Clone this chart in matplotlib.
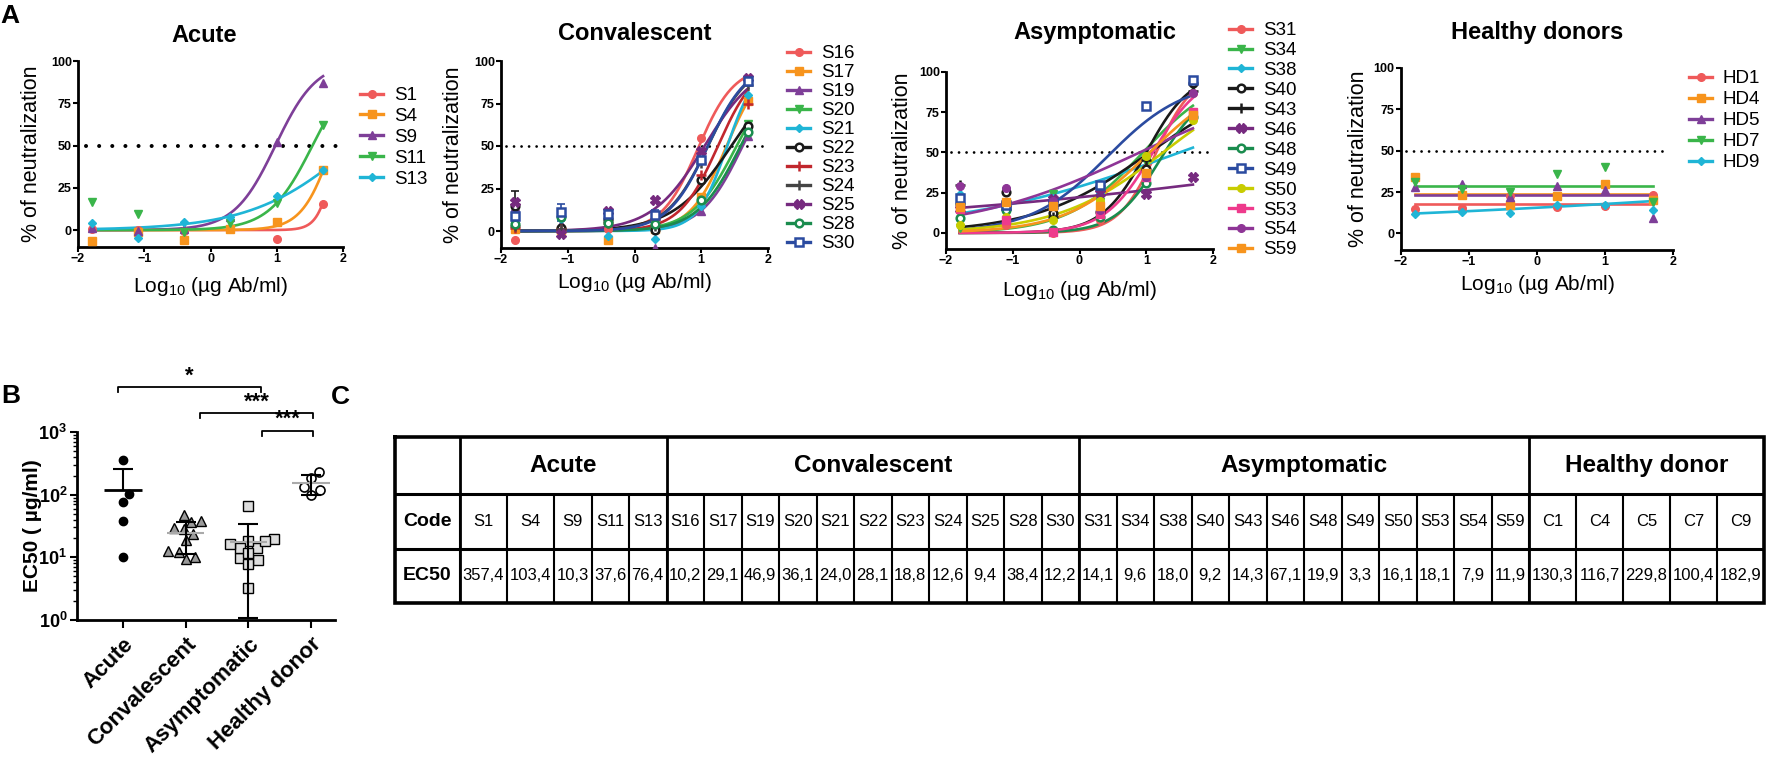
import numpy as np
import matplotlib
matplotlib.use('Agg')
import matplotlib.pyplot as plt
from matplotlib.lines import Line2D
from matplotlib import font_manager, ticker

plt.rcParams['font.family'] = ['Liberation Sans', 'DejaVu Sans']
plt.rcParams['mathtext.fontset'] = 'custom'
plt.rcParams['mathtext.rm'] = 'Liberation Sans'
plt.rcParams['mathtext.bf'] = 'Liberation Sans:bold'
plt.rcParams['mathtext.it'] = 'Liberation Sans:italic'

installed = {f.name for f in font_manager.fontManager.ttflist}
has_narrow = 'Liberation Sans Narrow' in installed
narrow = 'Liberation Sans Narrow' if has_narrow else 'Liberation Sans'
# table font sizes (narrow font lets us go larger)
tf_cell, tf_head, tf_row = (14, 20, 16.5) if has_narrow else (12, 17.5, 14)

# ---------------- data ----------------
conc = [0.016, 0.08, 0.4, 2, 10, 50]  # ug Ab/ml, 5-fold dilutions

# panel A: % neutralization at each dilution, and 4PL fit (bottom, top, logEC50, hill)
acute_names = ['S1', 'S4', 'S9', 'S11', 'S13']
acute_pts = [
    [0.5, 0, -0.5, 0.5, -5, 15.5],
    [-6.7, -1, -5.7, 0.5, 4.5, 35.5],
    [1, -0.4, 0.5, 8, 52, 87],
    [16.7, 9.4, -1.4, 4, 16, 62],
    [4.3, -4.9, 4.9, 7.5, 20, 35.5],
]
acute_fit = [(0, 100, 1.9, 3.5), (0, 100, 1.84, 1.89), (0, 100, 0.98, 1.4),
             (0, 100, 1.54, 1.33), (0, 100, 2.18, 0.557)]

conv_names = ['S16', 'S17', 'S19', 'S20', 'S21', 'S22', 'S23', 'S24', 'S25', 'S28', 'S30']
conv_pts = [
    [-5, 0, 1, 7, 55, 87.5],
    [1, 0.5, -5.5, 1, 20, 76.5],
    [14, 4, 11, -10, 12, 56],
    [6, 8, 4, 3, 17, 63],
    [5, 7, -3, -4.5, 15, 80],
    [15, 2, 7, 0.5, 30, 62],
    [2, 1, 5, 7, 33, 75],
    [3, 1, 6, 3, 40, 86],
    [17, -2, 12, 18.5, 47, 90],
    [4, 8, 5, 4, 18, 58],
    [9, 11, 10, 9.5, 42, 88],
]
conv_sd = {'S22': [8.5, 0, 2, 0, 0, 0], 'S30': [3, 5, 0, 3, 0, 0]}
conv_fit = [(0, 97, 0.95, 1.6), (0, 100, 1.38, 1.59), (0, 100, 1.62, 1.39),
            (0, 100, 1.53, 1.31), (0, 100, 1.39, 1.94), (0, 100, 1.45, 1.0),
            (0, 100, 1.25, 1.5), (0, 100, 1.1, 1.4), (0, 100, 1.05, 1.1),
            (0, 100, 1.59, 1.33), (0, 100, 1.1, 1.44)]

asym_names = ['S31', 'S34', 'S38', 'S40', 'S43', 'S46', 'S48', 'S49', 'S50', 'S53', 'S54', 'S59']
asym_pts = [
    [20, 5, 0, 8, 33, 87],
    [3, 12, 24, 19, 44, 91],
    [24, 28, 22, 25, 31, 74],
    [18, 25.5, 12.5, 13, 40, 93],
    [30, 15, 10, 29, 45, 88],
    [15, 18, 21, 25, 24, 35],
    [9, 14, 2, 10, 31, 72],
    [22, 17.5, 18, 30, 79, 95],
    [5, 10, 8, 20, 48, 70],
    [15, 8, 0.5, 12, 35, 75],
    [29, 28, 20, 14, 35, 87],
    [16, 19.5, 17, 17, 37, 73],
]
asym_fit = [(0, 100, 1.15, 1.55), (0, 100, 0.95, 0.77), (0, 100, 1.5, 0.262),
            (0, 100, 1.0, 1.3), (0, 100, 1.05, 0.506), (0, 100, 5.2, 0.105),
            (0, 90, 1.2, 1.3), (0, 95, 0.42, 0.75), (0, 100, 1.25, 0.55),
            (0, 100, 1.1, 1.2), (0, 100, 0.9, 0.336), (0, 100, 1.05, 0.7)]

hd_names = ['HD1', 'HD4', 'HD5', 'HD7', 'HD9']
hd_pts = [
    [15, 15.5, 22.5, 16, 16.5, 23],
    [34, 23, 17.5, 22.5, 30, 20],
    [28, 30, 22, 28.5, 26.5, 9.5],
    [31, 27, 25, 36, 40, 19],
    [12, 13, 12.5, 17, 17.5, 14],
]
hd_fit = [(18, 18, 0, 1), (24, 24, 0, 1), (23, 23, 0, 1), (28.5, 28.5, 0, 1),
          (0, 100, 10.3, 0.0714)]

# panel B / C: EC50 (ug/ml)
groups = ['Acute', 'Convalescent', 'Asymptomatic', 'Healthy donor']
codes_acute = ['S1', 'S4', 'S9', 'S11', 'S13']
ec50_acute = [357.4, 103.4, 10.3, 37.6, 76.4]
codes_conv = ['S16', 'S17', 'S19', 'S20', 'S21', 'S22', 'S23', 'S24', 'S25', 'S28', 'S30']
ec50_conv = [10.2, 29.1, 46.9, 36.1, 24.0, 28.1, 18.8, 12.6, 9.4, 38.4, 12.2]
codes_asym = ['S31', 'S34', 'S38', 'S40', 'S43', 'S46', 'S48', 'S49', 'S50', 'S53', 'S54', 'S59']
ec50_asym = [14.1, 9.6, 18.0, 9.2, 14.3, 67.1, 19.9, 3.3, 16.1, 18.1, 7.9, 11.9]
codes_hd = ['C1', 'C4', 'C5', 'C7', 'C9']
ec50_hd = [130.3, 116.7, 229.8, 100.4, 182.9]
sig_labels = ['*', '***', '***']

# ---------------- styles ----------------
RED, ORANGE, PURPLE, GREEN, CYAN = '#ef5a5a', '#f7941d', '#7e3f98', '#3ab54a', '#1fb5d6'
BLACK, DRED, PURP2, TEAL, BLUE = '#1a1a1a', '#c1272d', '#762a7f', '#1a8c4e', '#2b4ba0'
YELLOW, PINK, MAGENTA = '#c8cc00', '#ee3a8c', '#8e3596'

acute_style = [(RED, 'o'), (ORANGE, 's'), (PURPLE, '^'), (GREEN, 'v'), (CYAN, 'D')]
conv_style = [(RED, 'o'), (ORANGE, 's'), (PURPLE, '^'), (GREEN, 'v'), (CYAN, 'D'),
              (BLACK, 'oo'), (DRED, '+'), ('#444444', '+'), (PURP2, 'X'), (TEAL, 'oo'), (BLUE, 'so')]
asym_style = [(RED, 'o'), (GREEN, 'v'), (CYAN, 'D'), (BLACK, 'oo'), (BLACK, '+'), (PURP2, 'X'),
              (TEAL, 'oo'), (BLUE, 'so'), (YELLOW, 'o'), (PINK, 's'), (MAGENTA, 'o'), (ORANGE, 's')]
hd_style = [(RED, 'o'), (ORANGE, 's'), (PURPLE, '^'), (GREEN, 'v'), (CYAN, 'D')]


def mk(code, c):
    if code == 'oo':
        return dict(marker='o', ms=5.5, mfc='white', mec=c, mew=1.8)
    if code == 'so':
        return dict(marker='s', ms=5.5, mfc='white', mec=c, mew=1.8)
    if code == '+':
        return dict(marker='+', ms=6.5, mec=c, mew=1.8)
    if code == 'X':
        return dict(marker='X', ms=6.5, mfc=c, mec=c)
    if code == 'D':
        return dict(marker='D', ms=4, mfc=c, mec=c)
    return dict(marker=code, ms=5.5, mfc=c, mec=c)


W, H = 1771, 766
fig = plt.figure(figsize=(W / 100, H / 100), dpi=100)


def box(l, t, r, b):
    return [l / W, 1 - b / H, (r - l) / W, (b - t) / H]


def draw_panel(rect, title, title_xy, names, pts, fits, style, leg_xy, leg_sp,
               sds=None, big_dots=False, xlab_y=287, ylab_x=32):
    ax = fig.add_axes(box(*rect))
    x = np.log10(conc)
    xx = np.linspace(x[0], x[-1], 300)
    handles = []
    for n, p, f, (c, code) in zip(names, pts, fits, style):
        b, t, L, h = f
        yy = b + (t - b) / (1 + 10 ** ((L - xx) * h))
        ax.plot(xx, yy, color=c, lw=1.9, zorder=2)
        if sds and n in sds:
            ax.errorbar(x, p, yerr=sds[n], fmt='none', ecolor=c, elinewidth=1.2,
                        capsize=3, capthick=1.2, zorder=2)
        ax.plot(x, p, ls='none', zorder=3, **mk(code, c))
        handles.append(Line2D([], [], color=c, lw=2.4, **mk(code, c)))
    if big_dots:
        ax.hlines(50, -1.88, 1.95, color='black', lw=2.9, linestyles=[(0, (0.01, 3.25))],
                  capstyle='round', zorder=1)
    else:
        ax.hlines(50, -1.92, 1.93, color='black', lw=2.0, linestyles=[(0, (0.01, 2.7))],
                  capstyle='round', zorder=1)
    ax.set_xlim(-2, 2)
    ax.set_ylim(-10, 100)
    ax.set_xticks([-2, -1, 0, 1, 2])
    ax.set_yticks([0, 25, 50, 75, 100])
    for s in ['top', 'right']:
        ax.spines[s].set_visible(False)
    for s in ['left', 'bottom']:
        ax.spines[s].set_linewidth(2.0)
    ax.tick_params(length=3.5, width=1.5, labelsize=9, pad=1)
    plt.setp(ax.get_xticklabels() + ax.get_yticklabels(), fontweight='bold')
    l, t, r, bt = rect
    ax.set_xlabel('Log$_{\\mathregular{10}}$ (µg Ab/ml)', fontsize=15)
    ax.xaxis.set_label_coords(0.5, (bt - xlab_y) / (bt - t))
    ax.xaxis.label.set_va('center')
    ax.set_ylabel('% of neutralization', fontsize=15.5)
    ax.yaxis.set_label_coords((ylab_x - l) / (r - l), 0.5)
    ax.yaxis.label.set_va('center')
    fig.text(title_xy[0] / W, 1 - title_xy[1] / H, title, fontsize=17, fontweight='bold',
             ha='center', va='center')
    ax.legend(handles, names, loc='upper left', bbox_to_anchor=(leg_xy[0] / W, 1 - leg_xy[1] / H),
              bbox_transform=fig.transFigure, frameon=False, fontsize=13.5, handlelength=1.25,
              handletextpad=0.55, labelspacing=leg_sp, borderaxespad=0, borderpad=0)
    return ax


draw_panel((78, 61, 343, 247), 'Acute', (204, 35), acute_names, acute_pts, acute_fit,
           acute_style, (360, 87), 0.2, big_dots=True, xlab_y=287, ylab_x=32)
draw_panel((501, 61, 768, 248), 'Convalescent', (635, 33), conv_names, conv_pts, conv_fit,
           conv_style, (787, 45), 0.1, sds=conv_sd, xlab_y=283, ylab_x=453)
draw_panel((946, 72, 1213, 249), 'Asymptomatic', (1095, 33), asym_names, asym_pts, asym_fit,
           asym_style, (1229, 22), 0.15, xlab_y=290, ylab_x=903)
draw_panel((1401, 68, 1673, 250), 'Healthy donors', (1537, 32), hd_names, hd_pts, hd_fit,
           hd_style, (1689, 70), 0.21, xlab_y=285, ylab_x=1359)

# ---------------- panel B ----------------
def swarm_offsets(vals, d=0.16):
    y = np.log10(vals)
    offs = np.zeros(len(y))
    done = []
    for i in np.argsort(y):
        cands = [0.0]
        for j in done:
            dy = y[i] - y[j]
            if abs(dy) < d:
                dx = np.sqrt(d ** 2 - dy ** 2)
                cands += [offs[j] + dx, offs[j] - dx]
        cands.sort(key=abs)
        for c in cands:
            if all((c - offs[j]) ** 2 + (y[i] - y[j]) ** 2 >= d ** 2 - 1e-9 for j in done):
                offs[i] = c
                break
        done.append(i)
    return offs


axb = fig.add_axes(box(77, 432, 335, 620))
b_vals = [ec50_acute, ec50_conv, ec50_asym, ec50_hd]
b_style = [dict(marker='o', ms=6, mfc='black', mec='black'),
           dict(marker='^', ms=7, mfc='#9a9a9a', mec='black', mew=1.0),
           dict(marker='s', ms=6.5, mfc='#dddddd', mec='black', mew=1.0),
           dict(marker='o', ms=6.5, mfc='white', mec='black', mew=1.2)]
for i, (vals, st) in enumerate(zip(b_vals, b_style)):
    vals = np.array(vals)
    axb.plot(i + swarm_offsets(vals), vals, ls='none', zorder=2, clip_on=False, **st)
    m, sd = vals.mean(), vals.std(ddof=1)
    axb.hlines(m, i - 0.3, i + 0.3, color='black' if i == 0 else '#aaaaaa',
               lw=2.0 if i == 0 else 1.5, zorder=3)
    lo = m - sd if m - sd > 0 else m
    axb.vlines(i, lo, m + sd, color='black', lw=1.5, zorder=3)
    axb.hlines(m + sd, i - 0.16, i + 0.16, color='black', lw=1.5, zorder=3)
    if m - sd > 0:
        axb.hlines(m - sd, i - 0.16, i + 0.16, color='black', lw=1.5, zorder=3)

axb.set_yscale('log')
axb.set_ylim(1, 1000)
axb.set_xlim(-0.73, 3.38)
axb.yaxis.set_major_formatter(ticker.FuncFormatter(
    lambda v, p: '$\\mathbf{10^{%d}}$' % round(np.log10(v))))
axb.set_xticks(range(4))
axb.set_xticklabels(groups, rotation=45, ha='right', rotation_mode='anchor',
                    fontsize=16, fontweight='bold')
for s in ['top', 'right']:
    axb.spines[s].set_visible(False)
for s in ['left', 'bottom']:
    axb.spines[s].set_linewidth(2.0)
axb.tick_params(axis='x', length=6, width=1.5, pad=4)
axb.tick_params(axis='y', which='major', length=5, width=1.5, labelsize=13, pad=2)
axb.tick_params(axis='y', which='minor', length=3, width=1.0)
axb.set_ylabel('EC50 ( µg/ml)', fontsize=15, fontweight='bold')
axb.yaxis.set_label_coords((32 - 77) / (335 - 77), 0.5)
axb.yaxis.label.set_va('center')

sig_x = [(-0.07, 2.2), (1.23, 3.03), (2.22, 3.03)]
sig_y = [5250, 2000, 1050]
for (x0, x1), yv, lab in zip(sig_x, sig_y, sig_labels):
    yd = yv / 10 ** 0.08
    axb.plot([x0, x0, x1, x1], [yd, yv, yv, yd], color='black', lw=1.3, clip_on=False)
    axb.text((x0 + x1) / 2, yv * 1.02, lab, ha='center', va='bottom', fontsize=16,
             fontweight='bold')

# ---------------- panel C (table) ----------------
axt = fig.add_axes(box(385, 430, 1771, 610))
axt.set_xlim(385, 1771)
axt.set_ylim(610, 430)
axt.axis('off')

tab_groups = [('Acute', codes_acute, ec50_acute), ('Convalescent', codes_conv, ec50_conv),
              ('Asymptomatic', codes_asym, ec50_asym), ('Healthy donor', codes_hd, ec50_hd)]
x_left, label_w = 395, 65
rows_y = [437, 494, 549, 603]
xs = x_left + label_w
cells = []
spans = []
for gname, codes, vals in tab_groups:
    g0 = xs
    for code, v in zip(codes, vals):
        txt = f'{v:.1f}'.replace('.', ',')
        w = 47 if len(txt) > 4 else 37.5
        cells.append((xs, xs + w, code, txt))
        xs += w
    spans.append((g0, xs, gname))
x_right = xs

# cell text
for c0, c1, code, txt in cells:
    xc = (c0 + c1) / 2
    axt.text(xc, (rows_y[1] + rows_y[2]) / 2, code, ha='center', va='center',
             fontsize=tf_cell, family=narrow)
    axt.text(xc, (rows_y[2] + rows_y[3]) / 2, txt, ha='center', va='center',
             fontsize=tf_cell, family=narrow)
    axt.plot([c0, c0], [rows_y[1], rows_y[3]], color='black', lw=1.5, solid_capstyle='butt')
for g0, g1, gname in spans:
    axt.text((g0 + g1) / 2, (rows_y[0] + rows_y[1]) / 2, gname, ha='center', va='center',
             fontsize=tf_head, fontweight='bold', family=narrow)
    axt.plot([g0, g0], [rows_y[0], rows_y[3]], color='black', lw=2.0, solid_capstyle='butt')
xl = x_left + label_w / 2
axt.text(xl, (rows_y[1] + rows_y[2]) / 2, 'Code', ha='center', va='center',
         fontsize=tf_row, fontweight='bold', family=narrow)
axt.text(xl, (rows_y[2] + rows_y[3]) / 2, 'EC50', ha='center', va='center',
         fontsize=tf_row, fontweight='bold', family=narrow)
for yv in rows_y[1:3]:
    axt.plot([x_left, x_right], [yv, yv], color='black', lw=2.2, solid_capstyle='butt')
axt.plot([x_left, x_right, x_right, x_left, x_left],
         [rows_y[0], rows_y[0], rows_y[3], rows_y[3], rows_y[0]],
         color='black', lw=2.6, solid_joinstyle='miter')

# panel letters
for lab, (x, y) in zip('ABC', [(10, 16), (11, 396), (340, 397)]):
    fig.text(x / W, 1 - y / H, lab, fontsize=19, fontweight='bold', ha='center', va='center')

fig.savefig('out.png', dpi=100)
